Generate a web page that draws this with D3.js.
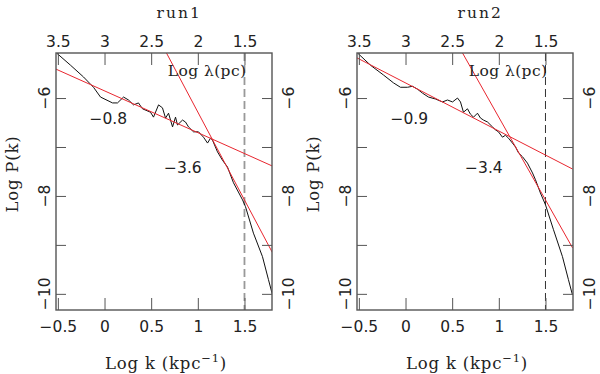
<!DOCTYPE html>
<html>
<head>
<meta charset="utf-8">
<script src="https://cdn.jsdelivr.net/npm/d3@7"></script>
<style>
  body { margin: 0; background: #fff; }
  svg { display: block; }
  .num { font-family: "DejaVu Sans", sans-serif; font-size: 15.5px; fill: #222; }
  .lab { font-family: "DejaVu Serif", serif; font-size: 16.5px; fill: #222; letter-spacing: 0.8px; }
</style>
</head>
<body>
<svg id="chart" width="600" height="374"></svg>
<script>
// log k (kpc^-1) and log P(k)
const run1K = [-0.514, -0.364, -0.225, -0.118, -0.043, 0.086, 0.139, 0.204, 0.257, 0.311, 0.364, 0.407,
  0.493, 0.525, 0.579, 0.621, 0.654, 0.686, 0.729, 0.761, 0.782, 0.836, 0.868, 0.900, 0.954, 1.007,
  1.061, 1.104, 1.136, 1.157, 1.211, 1.264, 1.318, 1.382, 1.479, 1.511, 1.596, 1.693, 1.757, 1.80];
const run1P = [-5.08, -5.33, -5.57, -5.78, -5.98, -6.10, -6.10, -5.98, -6.04, -6.14, -6.10, -6.22,
  -6.29, -6.39, -6.14, -6.20, -6.41, -6.31, -6.59, -6.39, -6.55, -6.45, -6.49, -6.59, -6.69, -6.69,
  -6.80, -6.92, -6.82, -6.86, -7.10, -7.27, -7.41, -7.73, -8.08, -8.22, -8.76, -9.24, -9.71, -10.02];

const run2K = [-0.514, -0.375, -0.236, -0.129, -0.054, 0.021, 0.075, 0.129, 0.182, 0.246, 0.321, 0.396,
  0.450, 0.504, 0.557, 0.589, 0.621, 0.664, 0.696, 0.729, 0.771, 0.804, 0.836, 0.879, 0.932, 0.964,
  0.996, 1.039, 1.071, 1.104, 1.146, 1.179, 1.211, 1.254, 1.307, 1.361, 1.393, 1.446, 1.500, 1.586,
  1.682, 1.746, 1.789];
const run2P = [-5.08, -5.33, -5.53, -5.69, -5.78, -5.78, -5.76, -5.82, -5.90, -5.98, -6.02, -6.08,
  -6.04, -6.08, -6.00, -6.08, -6.29, -6.22, -6.33, -6.39, -6.31, -6.41, -6.45, -6.49, -6.59, -6.65,
  -6.69, -6.80, -6.76, -6.82, -6.92, -7.00, -7.12, -7.20, -7.33, -7.53, -7.67, -7.94, -8.18, -8.69,
  -9.24, -9.71, -10.02];

// fitted power laws (end points)
const run1ShallowK = [-0.52, 1.80], run1ShallowP = [-5.41, -7.39];
const run1SteepK = [0.664, 1.80], run1SteepP = [-5.08, -9.16];
const run2ShallowK = [-0.52, 1.79], run2ShallowP = [-5.18, -7.45];
const run2SteepK = [0.611, 1.79], run2SteepP = [-5.08, -9.06];

const slopes1 = ['\u22120.8', '\u22123.6'];
const slopes2 = ['\u22120.9', '\u22123.4'];
const titles = ['run1', 'run2'];

const kTicks = [-0.5, 0, 0.5, 1, 1.5];
const lambdaTicks = [3.5, 3, 2.5, 2, 1.5];
const pTicks = [-6, -7, -8, -9, -10];
const pLabels = [-6, -8, -10];
const kCut = 1.5;

const fmt = v => (v < 0 ? '\u2212' : '') + Math.abs(v);

const svg = d3.select('#chart');
const plotTop = 53, plotBottom = 310, w = 216;
const yScale = d3.scaleLinear().domain([-10.33, -5.08]).range([plotBottom, plotTop]);

const panels = [
  { left: 56, k: run1K, p: run1P, sh: [run1ShallowK, run1ShallowP], st: [run1SteepK, run1SteepP],
    slopes: slopes1, title: titles[0], dash: { c: '#999', w: 1.8 } },
  { left: 357, k: run2K, p: run2P, sh: [run2ShallowK, run2ShallowP], st: [run2SteepK, run2SteepP],
    slopes: slopes2, title: titles[1], dash: { c: '#333', w: 1 } }
];

panels.forEach(function(pn, idx){
  const xScale = d3.scaleLinear().domain([-0.52, 1.795]).range([pn.left, pn.left + w]);
  const lScale = d3.scaleLinear().domain([3.52, 1.205]).range([pn.left, pn.left + w]);
  const g = svg.append('g');

  g.append('clipPath').attr('id', 'clip' + idx)
    .append('rect').attr('x', pn.left).attr('y', plotTop).attr('width', w).attr('height', plotBottom - plotTop);

  const plot = g.append('g').attr('clip-path', 'url(#clip' + idx + ')');

  // dashed cut at log k = 1.5
  plot.append('line')
    .attr('x1', xScale(kCut)).attr('x2', xScale(kCut))
    .attr('y1', plotTop).attr('y2', plotBottom)
    .attr('stroke', pn.dash.c).attr('stroke-width', pn.dash.w)
    .attr('stroke-dasharray', '8,4');

  const line = d3.line().x(d => xScale(d[0])).y(d => yScale(d[1]));

  plot.append('path')
    .datum(d3.zip(pn.k, pn.p))
    .attr('d', line).attr('fill', 'none')
    .attr('stroke', '#111').attr('stroke-width', 1);

  [pn.sh, pn.st].forEach(function(f){
    plot.append('path')
      .datum(d3.zip(f[0], f[1]))
      .attr('d', line).attr('fill', 'none')
      .attr('stroke', '#e8262f').attr('stroke-width', 1);
  });

  // frame
  g.append('rect')
    .attr('x', pn.left).attr('y', plotTop).attr('width', w).attr('height', plotBottom - plotTop)
    .attr('fill', 'none').attr('stroke', '#555').attr('stroke-width', 1.4);

  // bottom axis, ticks inward
  const minorK = d3.range(-5, 18).map(d => d / 10).filter(d => kTicks.indexOf(d) < 0);
  const gb = g.append('g').attr('transform', 'translate(0,' + plotBottom + ')');
  gb.call(d3.axisBottom(xScale).tickValues(minorK).tickSize(-6).tickFormat(''));
  gb.call(d3.axisBottom(xScale).tickValues(kTicks).tickSize(-12).tickPadding(11).tickFormat(fmt));
  gb.selectAll('.domain').remove();
  gb.selectAll('line').attr('stroke', '#555');
  gb.selectAll('text').attr('class', 'num').attr('font-family', null).attr('font-size', null);

  // top axis in log lambda (pc)
  const minorL = d3.range(13, 36).map(d => d / 10).filter(d => lambdaTicks.indexOf(d) < 0);
  const gt = g.append('g').attr('transform', 'translate(0,' + plotTop + ')');
  gt.call(d3.axisTop(lScale).tickValues(minorL).tickSize(-6).tickFormat(''));
  gt.call(d3.axisTop(lScale).tickValues(lambdaTicks).tickSize(-12).tickPadding(6).tickFormat(fmt));
  gt.selectAll('.domain').remove();
  gt.selectAll('line').attr('stroke', '#555');
  gt.selectAll('text').attr('class', 'num').attr('font-family', null).attr('font-size', null);

  // left and right axes
  const gl = g.append('g').attr('transform', 'translate(' + pn.left + ',0)');
  gl.call(d3.axisLeft(yScale).tickValues(pTicks).tickSize(-10).tickFormat(''));
  const gr = g.append('g').attr('transform', 'translate(' + (pn.left + w) + ',0)');
  gr.call(d3.axisRight(yScale).tickValues(pTicks).tickSize(-10).tickFormat(''));
  [gl, gr].forEach(a => { a.selectAll('.domain').remove(); a.selectAll('line').attr('stroke', '#555'); });

  pLabels.forEach(function(v){
    [pn.left - 6, pn.left + w + 22].forEach(function(x){
      g.append('text').attr('class', 'num')
        .attr('text-anchor', 'middle')
        .attr('transform', 'translate(' + x + ',' + yScale(v) + ') rotate(-90)')
        .text(fmt(v));
    });
  });

  // titles and axis labels
  g.append('text').attr('class', 'lab')
    .attr('x', xScale(0.8)).attr('y', 17.5).attr('text-anchor', 'middle')
    .style('font-size', '15.5px').style('letter-spacing', '2px')
    .text(pn.title);

  g.append('text').attr('class', 'lab')
    .attr('x', xScale(1.1)).attr('y', 76).attr('text-anchor', 'middle')
    .style('font-size', '15.5px').style('letter-spacing', '0.4px')
    .text('Log \u03bb(pc)');

  const xl = g.append('text').attr('class', 'lab')
    .attr('x', xScale(0.66)).attr('y', 369).attr('text-anchor', 'middle');
  xl.append('tspan').text('Log k (kpc');
  xl.append('tspan').attr('dy', -7).style('font-size', '11.5px').text('\u22121');
  xl.append('tspan').attr('dy', 7).text(')');

  g.append('text').attr('class', 'lab')
    .attr('text-anchor', 'middle')
    .attr('transform', 'translate(' + (pn.left - 38) + ',174) rotate(-90)')
    .text('Log P(k)');

  // slope annotations
  g.append('text').attr('class', 'num').attr('text-anchor', 'middle')
    .attr('x', xScale(0.04)).attr('y', yScale(-6.41) + 5.5).text(pn.slopes[0]);
  g.append('text').attr('class', 'num').attr('text-anchor', 'middle')
    .attr('x', xScale(0.84)).attr('y', yScale(-7.41) + 5.5).text(pn.slopes[1]);
});
</script>
</body>
</html>
